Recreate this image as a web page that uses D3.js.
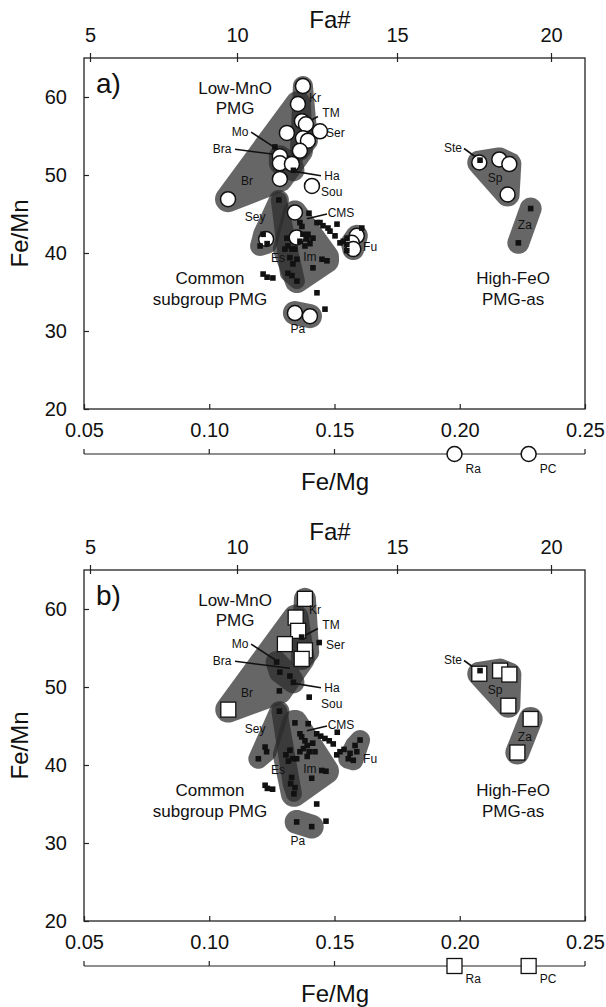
<!DOCTYPE html>
<html>
<head>
<meta charset="utf-8">
<script src="https://cdn.jsdelivr.net/npm/d3@7"></script>
<style>
body { margin: 0; background: #fff; }
text { font-family: Arial, "Liberation Sans", sans-serif; fill: #111; }
</style>
</head>
<body>
<div id="chart"></div>
<script>
// ---- data (Fe/Mg, Fe/Mn) ----
var xTicks = [0.05, 0.10, 0.15, 0.20, 0.25];
var yTicks = [20, 30, 40, 50, 60];
var faTicks = [5, 10, 15, 20];

// panel a: open circles
var openA = [
  [0.1374,61.4],[0.1354,59.1],[0.1370,56.9],[0.1386,56.5],[0.1442,55.6],[0.1310,55.4],
  [0.1374,54.7],[0.1394,54.4],[0.1362,53.1],[0.1282,52.4],[0.1282,51.5],[0.1330,51.4],
  [0.1282,49.5],[0.1410,48.6],[0.1075,46.9],
  [0.1342,45.2],[0.1227,41.8],[0.1349,42.0],[0.1589,42.2],[0.1569,41.3],[0.1575,40.5],
  [0.1342,32.3],[0.1402,31.9],
  [0.2078,51.6],[0.2158,52.0],[0.2198,51.4],[0.2191,47.5]
];
// panel a: small black squares
var dotsA = [
  [0.1278,46.8],[0.1398,45.1],[0.1362,43.9],[0.1370,43.4],[0.1430,43.9],[0.1442,43.9],
  [0.1454,43.5],[0.1474,43.2],[0.1482,42.8],[0.1502,42.2],[0.1510,43.7],[0.1374,42.4],
  [0.1394,42.4],[0.1414,41.9],[0.1390,41.8],[0.1402,41.2],[0.1382,40.9],[0.1362,41.5],
  [0.1310,41.9],[0.1314,40.9],[0.1302,40.5],[0.1330,40.5],[0.1342,40.5],[0.1322,39.4],
  [0.1350,39.2],[0.1215,42.4],[0.1231,41.2],[0.1203,40.9],[0.1450,39.2],[0.1470,39.0],
  [0.1414,38.1],[0.1334,38.6],[0.1314,37.4],[0.1330,37.1],[0.1350,36.4],[0.1215,37.3],
  [0.1231,36.9],[0.1254,36.8],[0.1430,34.9],[0.1462,32.8],
  [0.1522,41.3],[0.1535,41.5],[0.1549,41.1],[0.1549,40.3],[0.1550,41.9],[0.1609,43.2],
  [0.1262,53.6],[0.1336,50.6],[0.2081,51.9],[0.2283,45.7],[0.2234,41.3]
];
// panel b: open squares
var openB = [
  [0.1382,61.3],[0.1345,58.9],[0.1355,57.2],[0.1302,55.5],[0.1382,54.7],[0.1369,53.6],
  [0.1076,47.1],
  [0.2078,51.7],[0.2161,52.1],[0.2198,51.6],[0.2194,47.6],[0.2283,45.9],[0.2230,41.6]
];
// panel b: small black squares
var dotsB = [
  [0.1369,56.4],[0.1439,55.7],[0.1269,53.2],[0.1282,51.9],[0.1322,51.4],[0.1336,50.6],
  [0.1280,49.5],[0.1280,46.9],[0.1399,48.7],
  [0.1342,45.4],[0.1395,45.3],[0.1362,44.0],[0.1369,43.6],[0.1382,43.1],[0.1391,42.5],
  [0.1413,42.8],[0.1376,42.1],[0.1399,41.7],[0.1422,41.7],[0.1391,41.1],[0.1362,41.7],
  [0.1349,40.8],[0.1322,41.9],[0.1306,41.3],[0.1316,40.5],[0.1333,40.8],[0.1429,44.0],
  [0.1445,43.7],[0.1462,43.4],[0.1479,43.1],[0.1495,42.7],[0.1511,44.2],[0.1223,42.3],
  [0.1229,41.7],[0.1196,40.8],[0.1449,39.3],[0.1466,39.2],[0.1409,38.3],[0.1329,38.4],
  [0.1325,37.6],[0.1342,37.1],[0.1338,36.3],[0.1223,37.4],[0.1232,37.0],[0.1253,36.9],
  [0.1429,35.0],[0.1349,32.7],[0.1409,32.1],[0.1466,32.8],
  [0.1602,43.2],[0.1582,42.5],[0.1589,41.7],[0.1562,41.5],[0.1555,40.8],[0.1575,40.6],
  [0.1522,41.7],[0.1538,42.0],[0.1509,41.3],
  [0.2081,52.1]
];

// group envelopes: members and rounding radius (px)
var hullsA = [
  {name:"Br",  r:13, pts:[[0.1075,46.9],[0.1354,59.1],[0.1362,53.1],[0.1282,49.5]]},
  {name:"Kr",  r:10, pts:[[0.1374,61.4],[0.1394,54.4],[0.1362,53.1]]},
  {name:"Bra", r:11, pts:[[0.1282,52.4],[0.1282,51.5],[0.1330,51.4],[0.1336,50.6]]},
  {name:"Sey", r:10, pts:[[0.1278,46.8],[0.1215,42.4],[0.1203,40.9],[0.1231,41.2]]},
  {name:"Es",  r:8,  pts:[[0.1278,46.8],[0.1350,36.4],[0.1314,37.4]]},
  {name:"Im",  r:12, pts:[[0.1342,45.2],[0.1470,39.5],[0.1470,39.0],[0.1350,36.4],[0.1302,40.5]]},
  {name:"Fu",  r:11, pts:[[0.1589,42.2],[0.1569,41.3],[0.1575,40.5]]},
  {name:"Pa",  r:12, pts:[[0.1342,32.3],[0.1402,31.9]]},
  {name:"Sp",  r:12, pts:[[0.2078,51.6],[0.2158,52.0],[0.2198,51.4],[0.2191,47.5]]},
  {name:"Za",  r:11, pts:[[0.2283,45.7],[0.2234,41.3]]}
];
var hullsB = [
  {name:"Br",  r:13, pts:[[0.1076,47.1],[0.1345,58.9],[0.1369,53.6],[0.1280,49.5]]},
  {name:"Kr",  r:11, pts:[[0.1382,61.3],[0.1395,54.5],[0.1369,53.6]]},
  {name:"Bra", r:11, pts:[[0.1269,53.2],[0.1282,51.9],[0.1322,51.4],[0.1336,50.6]]},
  {name:"Sey", r:10, pts:[[0.1280,46.9],[0.1223,42.3],[0.1196,40.8],[0.1229,41.7]]},
  {name:"Es",  r:8,  pts:[[0.1280,46.9],[0.1338,36.3],[0.1325,37.6]]},
  {name:"Im",  r:13, pts:[[0.1342,45.4],[0.1466,39.2],[0.1338,36.3],[0.1306,41.3]]},
  {name:"Fu",  r:10, pts:[[0.1602,43.2],[0.1555,40.8],[0.1575,40.6],[0.1582,42.5]]},
  {name:"Pa",  r:12, pts:[[0.1349,32.7],[0.1409,32.1]]},
  {name:"Sp",  r:12, pts:[[0.2078,51.7],[0.2161,52.1],[0.2198,51.6],[0.2194,47.6]]},
  {name:"Za",  r:12, pts:[[0.2283,45.9],[0.2230,41.6]]}
];

// small locality labels
var siteLabels = [
  ["Kr",0.1422,59.9,"middle"],["TM",0.1486,58.0,"middle"],["Ser",0.1466,55.4,"start"],
  ["Mo",0.1123,55.6,"middle"],["Bra",0.1051,53.3,"middle"],["Ha",0.1490,49.9,"middle"],
  ["Sou",0.1446,47.9,"start"],["Br",0.1151,49.2,"middle"],["Sey",0.1183,44.6,"middle"],
  ["CMS",0.1526,45.1,"middle"],["Es",0.1274,39.4,"middle"],["Im",0.1402,39.5,"middle"],
  ["Fu",0.1642,40.8,"middle"],["Pa",0.1354,30.3,"middle"],["Ste",0.1973,53.5,"middle"],
  ["Sp",0.2141,49.6,"middle"],["Za",0.2260,43.6,"middle"]
];
var pointers = [
  [0.1434,57.5,0.1370,56.4],[0.1167,55.5,0.1262,53.5],[0.1103,53.3,0.1322,52.4],
  [0.1334,50.5,0.1446,49.9],[0.1470,45.0,0.1390,44.4],[0.2017,53.4,0.2081,51.9]
];
var groupLabels = [
  ["Low-MnO",0.1103,61.2],["PMG",0.1103,58.6],
  ["Common",0.1003,36.8],["subgroup PMG",0.1003,34.1],
  ["High-FeO",0.2213,36.8],["PMG-as",0.2213,34.1]
];
var extraSites = [{name:"Ra", v:0.1979},{name:"PC", v:0.2275}];

// ---- layout ----
var width = 606, height = 1007;
var svg = d3.select("#chart").append("svg")
  .attr("width", width)
  .attr("height", height);

var x = d3.scaleLinear().domain([0.05, 0.25]).range([84, 585]);
// Fa# axis is not evenly spaced in the figure
var fa = d3.scaleLinear().domain([5, 10, 15, 20]).range([90, 237, 397, 551]);
var y = d3.scaleLinear().domain([20, 65]).range([351, 0]);
var p_h = 351;

var panels = [
  {letter:"a)", top:58,  open:openA, dots:dotsA, hulls:hullsA, shape:"circle"},
  {letter:"b)", top:570, open:openB, dots:dotsB, hulls:hullsB, shape:"square"}
];

function hullPath(g) {
  var pts = [];
  g.pts.forEach(function(m) {
    var cx = x(m[0]), cy = y(m[1]);
    for (var k = 0; k < 40; k++) {
      var a = k * Math.PI * 2 / 40;
      pts.push([cx + g.r * Math.cos(a), cy + g.r * Math.sin(a)]);
    }
  });
  return "M" + d3.polygonHull(pts).join("L") + "Z";
}

function drawMarker(sel, shape, cx, cy) {
  if (shape == "circle") {
    sel.append("circle").attr("cx", cx).attr("cy", cy).attr("r", 7.5)
      .attr("fill", "#fff").attr("stroke", "#111").attr("stroke-width", 1.5);
  } else {
    sel.append("rect").attr("x", cx - 7.5).attr("y", cy - 7.5)
      .attr("width", 15).attr("height", 15)
      .attr("fill", "#fff").attr("stroke", "#111").attr("stroke-width", 1.3);
  }
}

panels.forEach(function(p) {
  var g = svg.append("g").attr("transform", "translate(0," + p.top + ")");

  // envelopes
  g.append("g").selectAll("path")
    .data(p.hulls)
    .enter().append("path")
    .attr("d", hullPath)
    .attr("fill", "#2b2b2b")
    .attr("fill-opacity", 0.72);

  // pointer lines
  g.append("g").selectAll("line")
    .data(pointers)
    .enter().append("line")
    .attr("x1", function(d) { return x(d[0]); })
    .attr("y1", function(d) { return y(d[1]); })
    .attr("x2", function(d) { return x(d[2]); })
    .attr("y2", function(d) { return y(d[3]); })
    .attr("stroke", "#111").attr("stroke-width", 1.6);

  // open markers
  var og = g.append("g");
  p.open.forEach(function(d) { drawMarker(og, p.shape, x(d[0]), y(d[1])); });

  // black squares
  g.append("g").selectAll("rect")
    .data(p.dots)
    .enter().append("rect")
    .attr("x", function(d) { return x(d[0]) - 2.8; })
    .attr("y", function(d) { return y(d[1]) - 2.8; })
    .attr("width", 5.6).attr("height", 5.6)
    .attr("fill", "#111");

  // frame
  g.append("rect")
    .attr("x", x.range()[0]).attr("y", 0)
    .attr("width", x.range()[1] - x.range()[0]).attr("height", p_h)
    .attr("fill", "none").attr("stroke", "#222").attr("stroke-width", 1.3);

  // axes
  var xAxis = d3.axisBottom(x).tickValues(xTicks).tickFormat(d3.format(".2f"))
    .tickSizeInner(-5).tickSizeOuter(0).tickPadding(14);
  var gx = g.append("g").attr("transform", "translate(0," + p_h + ")").call(xAxis);

  var yAxis = d3.axisLeft(y).tickValues(yTicks)
    .tickSizeInner(-5).tickSizeOuter(0).tickPadding(17);
  var gy = g.append("g").attr("transform", "translate(" + x.range()[0] + ",0)").call(yAxis);

  var faAxis = d3.axisTop(fa).tickValues(faTicks)
    .tickSizeInner(5).tickSizeOuter(0).tickPadding(11);
  var gf = g.append("g").call(faAxis);
  gf.selectAll(".tick line").attr("y2", -5).attr("y1", 4);

  [gx, gy, gf].forEach(function(a) {
    a.select(".domain").remove();
    a.selectAll(".tick line").attr("stroke", "#222").attr("stroke-width", 1.2);
    a.selectAll(".tick text").attr("font-size", 20).attr("fill", "#111")
      .attr("font-family", "Arial, 'Liberation Sans', sans-serif");
  });

  // second Fe/Mg scale below
  var sy = p_h + 45;
  var sg = g.append("g").attr("transform", "translate(0," + sy + ")");
  sg.append("line").attr("x1", x.range()[0]).attr("x2", x.range()[1])
    .attr("stroke", "#222").attr("stroke-width", 1.2);
  sg.selectAll(".stick").data(xTicks).enter().append("line")
    .attr("x1", function(d) { return x(d); }).attr("x2", function(d) { return x(d); })
    .attr("y1", 0).attr("y2", -5)
    .attr("stroke", "#222").attr("stroke-width", 1.2);
  extraSites.forEach(function(d) {
    drawMarker(sg, p.shape, x(d.v), 0);
    sg.append("text").attr("x", x(d.v) + 11).attr("y", p.shape == "circle" ? 19 : 17)
      .attr("font-size", 12).text(d.name);
  });

  // axis titles
  g.append("text").attr("x", 335).attr("y", p_h + 81)
    .attr("text-anchor", "middle").attr("font-size", 24).text("Fe/Mg");
  g.append("text").attr("x", 330).attr("y", -30)
    .attr("text-anchor", "middle").attr("font-size", 24).text("Fa#");
  g.append("text")
    .attr("transform", "translate(28," + (p_h / 2) + ") rotate(-90)")
    .attr("text-anchor", "middle").attr("font-size", 24).text("Fe/Mn");

  // panel letter
  g.append("text").attr("x", 96).attr("y", 35).attr("font-size", 28).text(p.letter);

  // labels
  g.append("g").selectAll("text")
    .data(siteLabels)
    .enter().append("text")
    .attr("x", function(d) { return x(d[1]); })
    .attr("y", function(d) { return y(d[2]); })
    .attr("dy", "0.35em")
    .attr("text-anchor", function(d) { return d[3]; })
    .attr("font-size", 12)
    .text(function(d) { return d[0]; });

  g.append("g").selectAll("text")
    .data(groupLabels)
    .enter().append("text")
    .attr("x", function(d) { return x(d[1]); })
    .attr("y", function(d) { return y(d[2]); })
    .attr("dy", "0.35em")
    .attr("text-anchor", "middle")
    .attr("font-size", 17)
    .text(function(d) { return d[0]; });
});
</script>
</body>
</html>
